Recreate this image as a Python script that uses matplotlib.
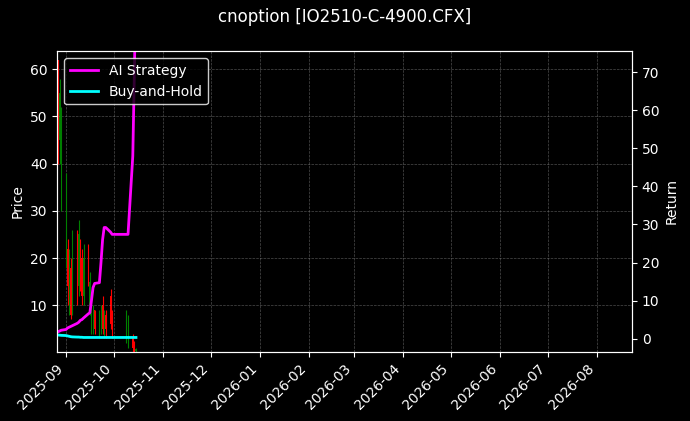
import matplotlib
matplotlib.use("Agg")
import matplotlib.pyplot as plt
import matplotlib.dates as mdates
import pandas as pd

dates = ["2025-08-26","2025-08-27","2025-08-28","2025-08-29",
         "2025-09-01","2025-09-02","2025-09-03","2025-09-04","2025-09-05",
         "2025-09-08","2025-09-09","2025-09-10","2025-09-11","2025-09-12",
         "2025-09-15","2025-09-16","2025-09-17","2025-09-18","2025-09-19",
         "2025-09-22","2025-09-23","2025-09-24","2025-09-25","2025-09-26",
         "2025-09-29","2025-09-30","2025-10-09","2025-10-10",
         "2025-10-13","2025-10-14","2025-10-15"]
opens  = [55,62,45,38, 22,22,10,18,10, 24,14,22,20,12, 22,10,6,5,9, 4,5,10,5,8, 12,8,4,3, 3,2,0.3]
closes = [28,45,55,50, 35,14,20,8,22, 12,25,15,12,20, 16,15,10,9,5, 8,9,5,8,5, 6,4,8,7, 1,0.5,0.8]
highs  = [60,62,58,52, 38,24,22,20,26, 26,28,24,22,23, 23,17,12,10,9, 9,10,12,9,9, 13.5,9,9,8, 4,2.5,1]
lows   = [22,40,40,30, 18,10,8,7,8, 10,12,13,10,10, 14,8,4,4,4, 3,4,4,3,3, 5,3,2,1, 0,0,0]
strategy = [1.6,1.8,2.0,2.2, 2.4,2.8,3.0,3.2,3.4, 4.0,4.3,4.8,5.0,5.4,
            6.5,6.8,10.0,13.4,14.5, 14.7,20.0,26.0,29.2,29.2,
            28.0,27.4,27.4,27.4, 48.0,70.0,95.0]
buyhold = [1.0,0.95,0.9,0.85, 0.8,0.7,0.6,0.5,0.45, 0.4,0.4,0.35,0.35,0.3,
           0.3,0.3,0.3,0.3,0.3, 0.3,0.3,0.3,0.3,0.3, 0.3,0.3,0.3,0.3, 0.3,0.3,0.3]

d = pd.to_datetime(dates)
plt.style.use("dark_background")
fig, ax = plt.subplots(figsize=(6.9, 4.21), dpi=100)
fig.patch.set_facecolor("black")
ax.set_facecolor("black")
for x, o, c, h, l in zip(d, opens, closes, highs, lows):
    col = "green" if c >= o else "red"
    ax.vlines(x, l, h, color=col, linewidth=0.8)
    ax.bar(x, abs(c - o), bottom=min(o, c), width=0.6, color=col)
ax.set_ylabel("Price")
ax.set_ylim(0.2, 63.8)
ax.set_xlim(pd.Timestamp("2025-08-26 12:00"), pd.Timestamp("2026-08-23"))
ax.xaxis.set_major_locator(mdates.MonthLocator())
ax.xaxis.set_major_formatter(mdates.DateFormatter("%Y-%m"))
plt.setp(ax.get_xticklabels(), rotation=45, ha="right")
ax.grid(True, linestyle="--", linewidth=0.5, color="gray", alpha=0.6)

ax2 = ax.twinx()
ax2.plot(d, strategy, color="magenta", linewidth=2, label="AI Strategy")
ax2.plot(d, buyhold, color="cyan", linewidth=2, label="Buy-and-Hold")
ax2.set_ylim(-3.4, 75.5)
ax2.set_ylabel("Return")
leg = ax2.legend(loc="upper left", facecolor="black", edgecolor="white")
fig.suptitle("cnoption [IO2510-C-4900.CFX]")
fig.subplots_adjust(left=0.083, right=0.916, top=0.878, bottom=0.165)
fig.savefig("out.png", dpi=100, facecolor="black")
